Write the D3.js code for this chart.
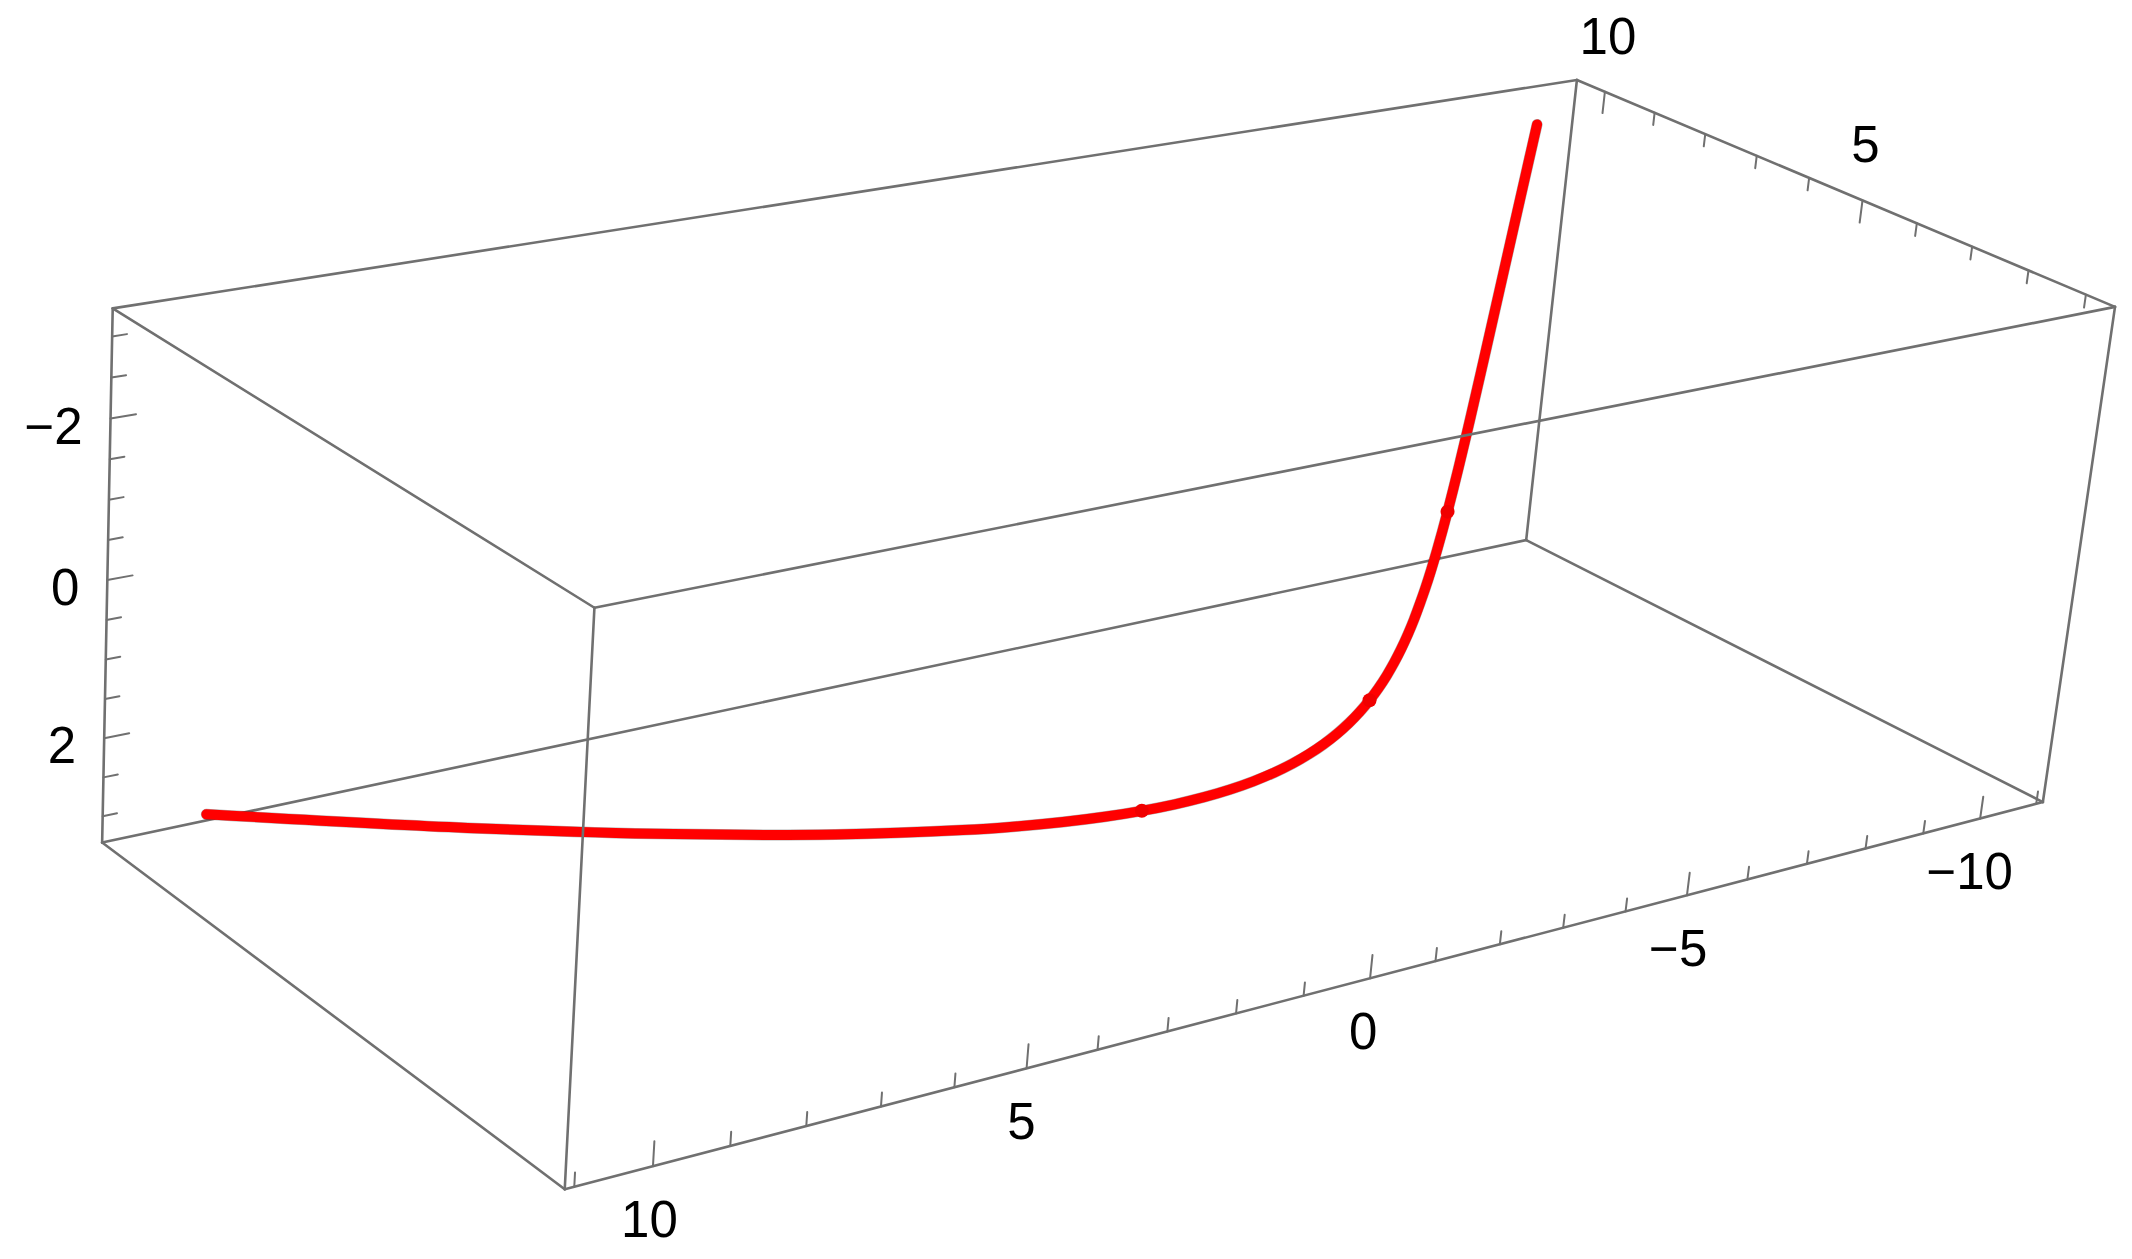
<!DOCTYPE html>
<html>
<head>
<meta charset="utf-8">
<script src="https://cdn.jsdelivr.net/npm/d3@7"></script>
<style>
  html, body { margin: 0; padding: 0; background: #fff; }
  text { font-family: "Liberation Sans", Arial, sans-serif; font-size: 51px; fill: #000; }
</style>
</head>
<body>
<svg id="chart" width="2132" height="1259"></svg>
<script>
// curve values
const curveX = [-10.0179, -7.7894, -6.0502, -4.6912, -3.6269, -3.1837, -2.7904, -2.4408, -2.1293, -1.8511, -1.6019, -1.3778, -1.1752, -0.9893, -0.8223, -0.6665, -0.5211, -0.3838, -0.2526, -0.1253, 0, 0.1253, 0.2526, 0.3838, 0.5211, 0.6665, 0.8223, 0.9893, 1.1752, 1.3778, 1.6019, 1.8511, 2.1293, 2.4408, 2.7904, 3.1837, 3.6269, 4.6912, 6.0502, 7.7894, 10.0179]
const curveY = [10.0677, 7.8533, 6.1323, 4.7966, 3.7622, 3.3371, 2.9642, 2.6377, 2.3524, 2.104, 1.8884, 1.7024, 1.5431, 1.4077, 1.2947, 1.2018, 1.1276, 1.0711, 1.0314, 1.0078, 1, 1.0078, 1.0314, 1.0711, 1.1276, 1.2018, 1.2947, 1.4077, 1.5431, 1.7024, 1.8884, 2.104, 2.3524, 2.6377, 2.9642, 3.3371, 3.7622, 4.7966, 6.1323, 7.8533, 10.0677]
const curveZ = [-3, -2.75, -2.5, -2.25, -2, -1.875, -1.75, -1.625, -1.5, -1.375, -1.25, -1.125, -1, -0.875, -0.75, -0.625, -0.5, -0.375, -0.25, -0.125, 0, 0.125, 0.25, 0.375, 0.5, 0.625, 0.75, 0.875, 1, 1.125, 1.25, 1.375, 1.5, 1.625, 1.75, 1.875, 2, 2.25, 2.5, 2.75, 3]

// the dots sitting on the curve
const dotX = [-2.1293, 0, 2.1293]
const dotY = [2.3524, 1, 2.3524]
const dotZ = [-1.5, 0, 1.5]

const xTicks = [-11, -10, -9, -8, -7, -6, -5, -4, -3, -2, -1, 0, 1, 2, 3, 4, 5, 6, 7, 8, 9, 10, 11]
const yTicks = [1, 2, 3, 4, 5, 6, 7, 8, 9, 10]
const zTicks = [-3, -2.5, -2, -1.5, -1, -0.5, 0, 0.5, 1, 1.5, 2, 2.5, 3]
const xLabels = [-10, -5, 0, 5, 10]
const yLabels = [5, 10]
const zLabels = [-2, 0, 2]

const xScale = d3.scaleLinear().domain([-11.12, 11.12]).range([0, 1])
const yScale = d3.scaleLinear().domain([0.5, 10.57]).range([0, 1])
const zScale = d3.scaleLinear().domain([-3.34, 3.34]).range([0, 1])

// camera calibration: where the unit box corners land on the page [u, v, w, px, py]
const calibration = [
  [1, 1, 0, 113, 308],
  [1, 1, 1, 102, 843],
  [1, 0, 0, 594, 608],
  [1, 0, 1, 565, 1189],
  [0, 1, 0, 1577, 80],
  [0, 1, 1, 1526, 540],
  [0, 0, 0, 2115, 307],
  [0, 0, 1, 2043, 802]
]

function solve (A, b) {
  const n = b.length
  const m = A.map(function (row, i) { return row.concat(b[i]) })
  for (let c = 0; c < n; c++) {
    let p = c
    for (let r = c + 1; r < n; r++) {
      if (Math.abs(m[r][c]) > Math.abs(m[p][c])) p = r
    }
    const tmp = m[c]; m[c] = m[p]; m[p] = tmp
    for (let r = 0; r < n; r++) {
      if (r === c) continue
      const f = m[r][c] / m[c][c]
      for (let k = c; k <= n; k++) m[r][k] -= f * m[c][k]
    }
  }
  return m.map(function (row, i) { return row[n] / row[i] })
}

// least squares fit of a 3x4 camera matrix to the corners
function fitCamera () {
  const rows = [], rhs = []
  calibration.forEach(function (c) {
    const u = c[0], v = c[1], w = c[2], px = c[3], py = c[4]
    rows.push([u, v, w, 1, 0, 0, 0, 0, -px * u, -px * v, -px * w]); rhs.push(px)
    rows.push([0, 0, 0, 0, u, v, w, 1, -py * u, -py * v, -py * w]); rhs.push(py)
  })
  const AtA = d3.range(11).map(function (i) {
    return d3.range(11).map(function (j) {
      return d3.sum(rows, function (r) { return r[i] * r[j] })
    })
  })
  const Atb = d3.range(11).map(function (i) {
    return d3.sum(rows, function (r, k) { return r[i] * rhs[k] })
  })
  return solve(AtA, Atb)
}

const cam = fitCamera()

function project (x, y, z) {
  const u = xScale(x), v = yScale(y), w = zScale(z)
  const d = cam[8] * u + cam[9] * v + cam[10] * w + 1
  return [
    (cam[0] * u + cam[1] * v + cam[2] * w + cam[3]) / d,
    (cam[4] * u + cam[5] * v + cam[6] * w + cam[7]) / d
  ]
}

const svg = d3.select('#chart')
const xMin = xScale.domain()[0], xMax = xScale.domain()[1]
const yMin = yScale.domain()[0], yMax = yScale.domain()[1]
const zMin = zScale.domain()[0], zMax = zScale.domain()[1]

const grey = '#707070'

function drawSegments (g, segs, width) {
  g.selectAll(null)
    .data(segs)
    .enter().append('line')
    .attr('x1', function (d) { return d[0][0] })
    .attr('y1', function (d) { return d[0][1] })
    .attr('x2', function (d) { return d[1][0] })
    .attr('y2', function (d) { return d[1][1] })
    .attr('stroke', grey)
    .attr('stroke-width', width)
    .attr('stroke-linecap', 'round')
}

// box edges behind the curve
const backEdges = [
  [[xMax, yMax, zMin], [xMin, yMax, zMin]],
  [[xMax, yMax, zMin], [xMax, yMin, zMin]],
  [[xMin, yMax, zMin], [xMin, yMin, zMin]],
  [[xMax, yMax, zMin], [xMax, yMax, zMax]],
  [[xMin, yMax, zMin], [xMin, yMax, zMax]],
  [[xMax, yMax, zMax], [xMin, yMax, zMax]],
  [[xMin, yMax, zMax], [xMin, yMin, zMax]],
  [[xMax, yMax, zMax], [xMax, yMin, zMax]],
  [[xMin, yMin, zMin], [xMin, yMin, zMax]]
]
// box edges in front of it
const frontEdges = [
  [[xMax, yMin, zMin], [xMax, yMin, zMax]],
  [[xMax, yMin, zMin], [xMin, yMin, zMin]],
  [[xMax, yMin, zMax], [xMin, yMin, zMax]]
]
function toPixels (e) { return [project.apply(null, e[0]), project.apply(null, e[1])] }

drawSegments(svg.append('g'), backEdges.map(toPixels), 2.6)

// ticks, major ones are longer
const xTickSegs = xTicks.map(function (t) {
  const len = xLabels.includes(t) ? 0.3 : 0.17
  return [project(t, yMin, zMax), project(t, yMin, zMax - len)]
})
const yTickSegs = yTicks.map(function (t) {
  const len = yLabels.includes(t) ? 0.3 : 0.17
  return [project(xMin, t, zMin), project(xMin, t, zMin + len)]
})
const zTickSegs = zTicks.map(function (t) {
  const len = zLabels.includes(t) ? 0.33 : 0.19
  return [project(xMax, yMax, t), project(xMax - len, yMax, t)]
})
drawSegments(svg.append('g'), xTickSegs.concat(yTickSegs, zTickSegs), 2)

// curve
const curvePts = curveX.map(function (x, i) { return project(x, curveY[i], curveZ[i]) })
const line = d3.line().curve(d3.curveCatmullRom.alpha(0.5))

svg.append('path')
  .attr('d', line(curvePts))
  .attr('fill', 'none')
  .attr('stroke', '#000')
  .attr('stroke-opacity', 0.3)
  .attr('stroke-width', 11)
  .attr('stroke-linecap', 'round')

svg.append('path')
  .attr('d', line(curvePts))
  .attr('fill', 'none')
  .attr('stroke', '#ff0000')
  .attr('stroke-width', 10)
  .attr('stroke-linecap', 'round')

svg.append('g')
  .selectAll('circle')
  .data(dotX)
  .enter().append('circle')
  .attr('cx', function (d, i) { return project(d, dotY[i], dotZ[i])[0] })
  .attr('cy', function (d, i) { return project(d, dotY[i], dotZ[i])[1] })
  .attr('r', 7)
  .attr('fill', '#f00000')

drawSegments(svg.append('g'), frontEdges.map(toPixels), 2.6)

function fmt (v) { return v < 0 ? '\u2212' + Math.abs(v) : String(v) }

svg.append('g')
  .selectAll('text')
  .data(xLabels)
  .enter().append('text')
  .attr('x', function (d) { return project(d, yMin, zMax)[0] - 7 + d * 0.35 })
  .attr('y', function (d) { return project(d, yMin, zMax)[1] + 71 })
  .attr('text-anchor', 'middle')
  .text(fmt)

svg.append('g')
  .selectAll('text')
  .data(yLabels)
  .enter().append('text')
  .attr('x', function (d) { return project(xMin, d, zMin)[0] + 3 })
  .attr('y', function (d) { return project(xMin, d, zMin)[1] - 38 })
  .attr('text-anchor', 'middle')
  .text(fmt)

svg.append('g')
  .selectAll('text')
  .data(zLabels)
  .enter().append('text')
  .attr('x', function (d) { return project(xMax, yMax, d)[0] - 28 })
  .attr('y', function (d) { return project(xMax, yMax, d)[1] + 25 })
  .attr('text-anchor', 'end')
  .text(fmt)
</script>
</body>
</html>
